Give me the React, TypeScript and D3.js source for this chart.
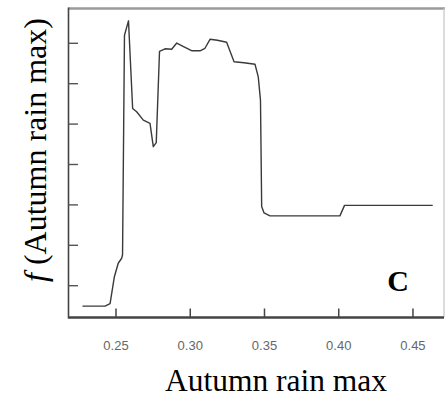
import React from "react";
import * as d3 from "d3";

const xValues = [0.2274, 0.2426, 0.246, 0.2489, 0.2515, 0.2538, 0.2544, 0.2557, 0.2584, 0.2612, 0.2639, 0.2684, 0.2729, 0.2751, 0.2771, 0.2793, 0.283, 0.2875, 0.2909, 0.2958, 0.3012, 0.3066, 0.3099, 0.3133, 0.3183, 0.3245, 0.3295, 0.3362, 0.3436, 0.3458, 0.3473, 0.3481, 0.3497, 0.3537, 0.4008, 0.4039, 0.4633];
const yValues = [0.494, 0.494, 0.556, 1.222, 1.556, 1.679, 1.765, 7.198, 7.556, 5.388, 5.304, 5.099, 5.017, 4.44, 4.543, 6.802, 6.864, 6.852, 7.007, 6.914, 6.815, 6.815, 6.877, 7.099, 7.074, 7.025, 6.543, 6.519, 6.481, 6.168, 5.593, 2.958, 2.802, 2.728, 2.728, 2.988, 2.988];
const xTicks = [0.25, 0.3, 0.35, 0.4, 0.45];
const xTickLabels = ["0.25", "0.30", "0.35", "0.40", "0.45"];
const yTicks = [1, 2, 3, 4, 5, 6, 7];
const xTitle = "Autumn rain max";
const yTitle = "(Autumn rain max)";
const panelLabel = "C";

export default function App() {
  const W = 445, H = 407;
  const left = 68.5, right = 444, top = 8.5, bottom = 317.5;
  const x = d3.scaleLinear().domain([0.218, 0.4709]).range([left, right]);
  const y = d3.scaleLinear().domain([0.213, 7.861]).range([bottom, top]);
  const data = xValues.map((v, i) => [v, yValues[i]] as [number, number]);
  const line = d3.line<[number, number]>().x(d => x(d[0])).y(d => y(d[1]));
  const serif = "Liberation Serif";
  return (
    <svg width={W} height={H} style={{ position: "absolute", left: 0, top: 0, background: "#fff" }}>
      <line x1={left} x2={right + 1} y1={top} y2={top} stroke="#9a9a9a" strokeWidth={2.5} />
      <line x1={right} x2={right} y1={top} y2={bottom} stroke="#cfcfcf" strokeWidth={1.5} />
      <line x1={left} x2={left} y1={top - 1} y2={bottom + 1} stroke="#444" strokeWidth={1.6} />
      <line x1={left} x2={right} y1={bottom} y2={bottom} stroke="#444" strokeWidth={2.4} />
      {yTicks.map(t => (
        <line key={t} x1={left} x2={left + 9.5} y1={y(t)} y2={y(t)} stroke="#555" strokeWidth={1.4} />
      ))}
      {xTicks.map((t, i) => (
        <g key={t}>
          <line x1={x(t)} x2={x(t)} y1={bottom} y2={bottom - 9} stroke="#444" strokeWidth={1.5} />
          <text x={x(t)} y={350} textAnchor="middle" style={{ fontFamily: "Liberation Sans", fontSize: 13 }} fill="#666">{xTickLabels[i]}</text>
        </g>
      ))}
      <path d={line(data) || ""} fill="none" stroke="#3a3a3a" strokeWidth={1.4} strokeLinejoin="round" />
      <text x={398} y={291} textAnchor="middle" style={{ fontFamily: serif, fontWeight: "bold", fontSize: 30 }} fill="#000">{panelLabel}</text>
      <text x={276} y={391} textAnchor="middle" style={{ fontFamily: serif, fontSize: 31.5 }} fill="#000">{xTitle}</text>
      <text transform="translate(46,150) rotate(-90)" textAnchor="middle" style={{ fontFamily: serif, fontSize: 32 }} fill="#000">
        <tspan style={{ fontStyle: "italic" }}>f</tspan> {yTitle}
      </text>
    </svg>
  );
}
